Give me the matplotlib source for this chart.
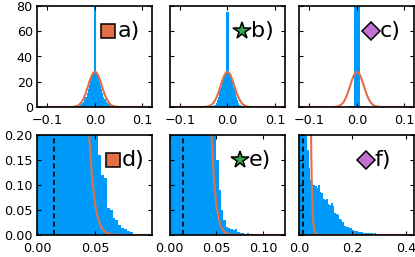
import numpy as np
import matplotlib
matplotlib.use("Agg")
import matplotlib.pyplot as plt

# colours of the Plots.jl default palette
BLUE = "#009AFA"
ORANGE = "#E36F47"
GREEN = "#3EA44E"
PURPLE = "#C371D2"

# histogram heights (density), positive side, bins starting at 0
# run a / d, bin width 0.0025
hist_a = [95, 27, 24.5, 21, 17.5, 14, 11, 8.2, 6, 4.2,
          2.9, 2.0, 1.3, 0.9, 0.6, 0.42, 0.32, 0.27, 0.24, 0.21,
          0.2, 0.16, 0.12, 0.115, 0.055, 0.05, 0.035, 0.03, 0.02, 0.015,
          0.012, 0.008, 0.006, 0.003, 0, 0, 0, 0, 0, 0]
# run b / e, bin width 0.0025
hist_b = [75, 27, 25.5, 23, 19.5, 15.5, 11.5, 8, 5.2, 3.2,
          1.8, 1.0, 0.55, 0.4, 0.32, 0.28, 0.26, 0.25, 0.23, 0.21,
          0.15, 0.09, 0.05, 0.03, 0.017, 0.014, 0.012, 0.01, 0.013, 0.006,
          0.004, 0.005, 0.003, 0.004, 0.003, 0.003, 0.002, 0.002, 0.002, 0.001,
          0.001, 0.001, 0, 0, 0, 0, 0, 0, 0, 0]
# run c / f, bin width 0.006
hist_c = [90, 0.6, 0.45, 0.35, 0.26, 0.17, 0.135, 0.11, 0.105, 0.1,
          0.098, 0.095, 0.1, 0.087, 0.085, 0.072, 0.07, 0.072, 0.063, 0.06,
          0.065, 0.058, 0.045, 0.042, 0.04, 0.032, 0.03, 0.027, 0.018, 0.017,
          0.016, 0.015, 0.014, 0.01, 0.009, 0.009, 0.008, 0.007, 0.006, 0.006,
          0.005, 0.005, 0.004, 0.005, 0.004, 0.004, 0.003, 0.004, 0.003, 0.003,
          0.003, 0.002, 0.003, 0.002, 0.002, 0.002, 0.003, 0.002, 0.002, 0.002,
          0.002, 0.001, 0.002, 0.001, 0.001, 0.001, 0.001, 0, 0, 0]
bin_widths = [0.0025, 0.0025, 0.006]

# normal fit (orange), positive side
gauss_x = [0, 0.0025, 0.005, 0.0075, 0.01, 0.0125, 0.015, 0.0175, 0.02, 0.0225,
           0.025, 0.0275, 0.03, 0.0325, 0.035, 0.0375, 0.04, 0.0425, 0.045, 0.0475,
           0.05, 0.0525, 0.055, 0.0575, 0.06, 0.065, 0.07, 0.08, 0.12, 0.45]
gauss_y = [27.9, 27.48, 26.25, 24.32, 21.85, 19.04, 16.09, 13.19, 10.49, 8.09,
           6.05, 4.39, 3.09, 2.11, 1.396, 0.896, 0.558, 0.337, 0.197, 0.112,
           0.0618, 0.033, 0.0171, 0.0086, 0.0042, 0.0009, 0.0002, 0, 0, 0]

sigma_line = 0.0145

labels = ["a)", "b)", "c)", "d)", "e)", "f)"]
markers = ["s", "*", "D"]
marker_colors = [ORANGE, GREEN, PURPLE]
marker_sizes = [9.5, 13, 9]
top_label_x = [0.028, 0.030, 0.029]
bottom_label_x = [0.065, 0.075, 0.25]

top_xticks = [-0.1, 0.0, 0.1]
top_yticks = [0, 20, 40, 60, 80]
bottom_yticks = [0.0, 0.05, 0.10, 0.15, 0.20]
bottom_xticks = [[0.0, 0.05], [0.0, 0.05, 0.10], [0.0, 0.2, 0.4]]
bottom_xlims = [0.099, 0.123, 0.43]

W, H = 415, 257
fig = plt.figure(figsize=(W / 100, H / 100), dpi=100)
lefts = [37, 169.5, 299]
width = 115


def style(ax):
    for s in ax.spines.values():
        s.set_linewidth(1.2)
    ax.tick_params(direction="in", top=True, right=True, length=3, width=0.8,
                   labelsize=9.2)
    ax.tick_params(axis="x", pad=5)
    ax.tick_params(axis="y", pad=3)


def label(ax, x, y, text, marker, color, ms):
    ax.plot([x], [y], marker=marker, color=color, markeredgecolor="black",
            markersize=ms, markeredgewidth=1.1, clip_on=False, zorder=5)
    ax.annotate(text, (x, y), xytext=(6.5, 0), textcoords="offset points",
                fontsize=16, va="center", ha="left", zorder=5)


gx = np.array(gauss_x)
gy = np.array(gauss_y)
gx_full = np.concatenate([-gx[::-1], gx])
gy_full = np.concatenate([gy[::-1], gy])

for i, (h, w) in enumerate(zip([hist_a, hist_b, hist_c], bin_widths)):
    h = np.array(h, dtype=float)
    n = len(h)
    edges = np.arange(-n, n + 1) * w
    heights = np.concatenate([h[::-1], h])

    # top row: full distribution
    ax = fig.add_axes([lefts[i] / W, (H - 107) / H, width / W, 101 / H])
    ax.stairs(heights, edges, fill=True, color=BLUE, linewidth=0)
    ax.plot(gx_full, gy_full, color=ORANGE, lw=1.5)
    ax.set_xlim(-0.122, 0.12)
    ax.set_ylim(0, 80)
    ax.set_xticks(top_xticks)
    ax.set_yticks(top_yticks)
    if i > 0:
        ax.set_yticklabels([])
    style(ax)
    label(ax, top_label_x[i], 60, labels[i], markers[i], marker_colors[i], marker_sizes[i])

    # bottom row: zoom on the positive tail
    ax = fig.add_axes([lefts[i] / W, (H - 235) / H, width / W, 100 / H])
    ax.stairs(heights, edges, fill=True, color=BLUE, linewidth=0)
    ax.plot(gx_full, gy_full, color=ORANGE, lw=1.5)
    ax.axvline(sigma_line, color="black", ls="--", lw=1.2, dashes=(3, 2))
    ax.set_xlim(0, bottom_xlims[i])
    ax.set_ylim(0, 0.2)
    ax.set_xticks(bottom_xticks[i])
    ax.set_yticks(bottom_yticks)
    if i > 0:
        ax.set_yticklabels([])
    style(ax)
    label(ax, bottom_label_x[i], 0.15, labels[i + 3], markers[i], marker_colors[i], marker_sizes[i])

fig.savefig("out.png", dpi=100)
